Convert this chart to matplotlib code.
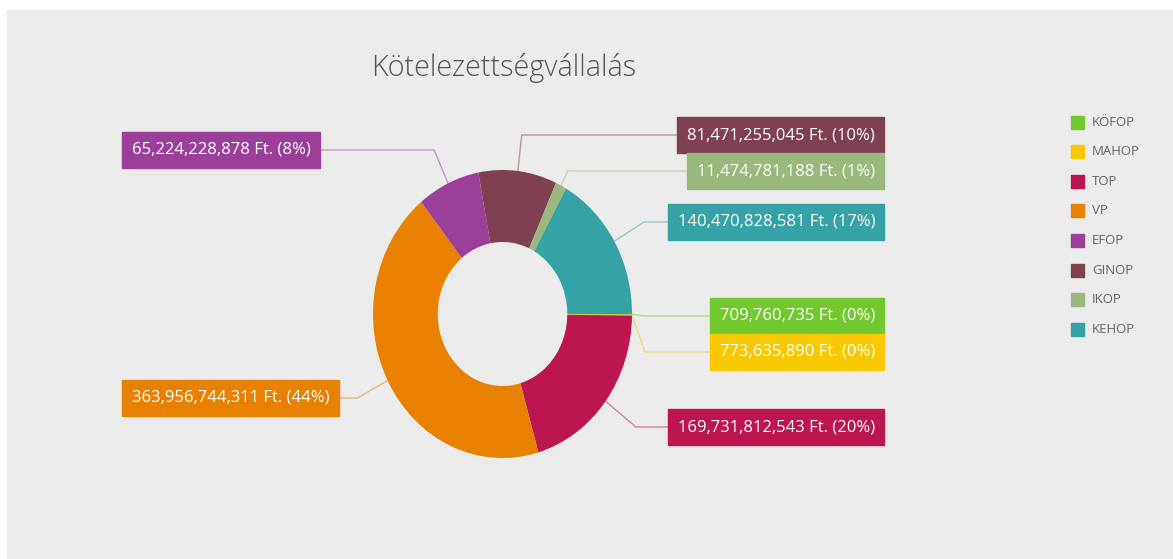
import numpy as np
import matplotlib.pyplot as plt
from matplotlib.patches import Rectangle

programs = ['KÖFOP', 'MAHOP', 'TOP', 'VP', 'EFOP', 'GINOP', 'IKOP', 'KEHOP']
amounts = [709760735, 773635890, 169731812543, 363956744311,
           65224228878, 81471255045, 11474781188, 140470828581]
colors = ['#72c92f', '#f8c800', '#bc154f', '#e88000',
          '#9c3f9b', '#7f4151', '#9bb87c', '#35a3a6']

# label layout (pixels, top-left origin): side, box centre y
label_side = ['R', 'R', 'R', 'L', 'L', 'R', 'R', 'R']
label_y = [316, 352, 427, 398, 150, 135, 171, 222]

W, H = 1173, 559
fig = plt.figure(figsize=(W / 100, H / 100), dpi=100, facecolor='white')

# overlay axes in pixel units
ov = fig.add_axes([0, 0, 1, 1])
ov.set_xlim(0, W)
ov.set_ylim(H, 0)
ov.axis('off')
ov.add_patch(Rectangle((7, 10), W - 7, H - 10, color='#ebebeb', zorder=0))

# donut (ellipse on screen)
cx, cy, rx, ry = 502.5, 314, 129.5, 144
pax = fig.add_axes([(cx - rx) / W, (H - cy - ry) / H, 2 * rx / W, 2 * ry / H])
pax.pie(amounts, colors=colors, startangle=0, counterclock=False, radius=1,
        wedgeprops=dict(width=0.5, linewidth=0))
pax.set_aspect('auto')
pax.set_xlim(-1, 1)
pax.set_ylim(-1, 1)
pax.axis('off')

total = sum(amounts)
frac = np.array(amounts) / total
cum = np.cumsum(frac) - frac / 2
font = ['Open Sans', 'DejaVu Sans']

for i, name in enumerate(programs):
    ang = -2 * np.pi * cum[i]
    ca, sa = np.cos(ang), np.sin(ang)
    x0, y0 = cx + rx * ca, cy - ry * sa
    ly = label_y[i]
    t = (cy - ly) / (ry * sa) if abs(sa) > 1e-6 else -1
    if t < 1.0 or t > 1.4:
        t = 1.1
    x1 = cx + rx * t * ca
    side = label_side[i]
    txt = f"{amounts[i]:,} Ft. ({frac[i] * 100:.0f}%)"
    if side == 'R':
        x2 = 884
        tt = ov.text(x2 - 9, ly, txt, ha='right', va='center', color='white',
                     fontsize=12, family=font, zorder=5)
    else:
        x2 = 122
        tt = ov.text(x2 + 10, ly, txt, ha='left', va='center', color='white',
                     fontsize=12, family=font, zorder=5)
    fig.canvas.draw()
    bb = tt.get_window_extent().transformed(ov.transData.inverted())
    w = abs(bb.x1 - bb.x0) + 19
    bx = x2 - w if side == 'R' else x2
    ov.add_patch(Rectangle((bx, ly - 18), w, 36, color=colors[i], zorder=4))
    xe = bx if side == 'R' else bx + w
    ov.plot([x0, x1, xe], [y0, ly, ly], color=colors[i], alpha=0.5, lw=1, zorder=3)

# legend
for i, name in enumerate(programs):
    y = 122 + i * 29.6
    ov.add_patch(Rectangle((1071, y - 6.5), 13, 13, color=colors[i], zorder=4))
    ov.text(1092, y, name, ha='left', va='center', color='#666666',
            fontsize=9.5, family=font)

ov.text(504, 68, 'Kötelezettségvállalás', ha='center', va='center',
        color='#555555', fontsize=20.7, family=font, fontweight='light')

fig.savefig('out.png', dpi=100, facecolor='white')
